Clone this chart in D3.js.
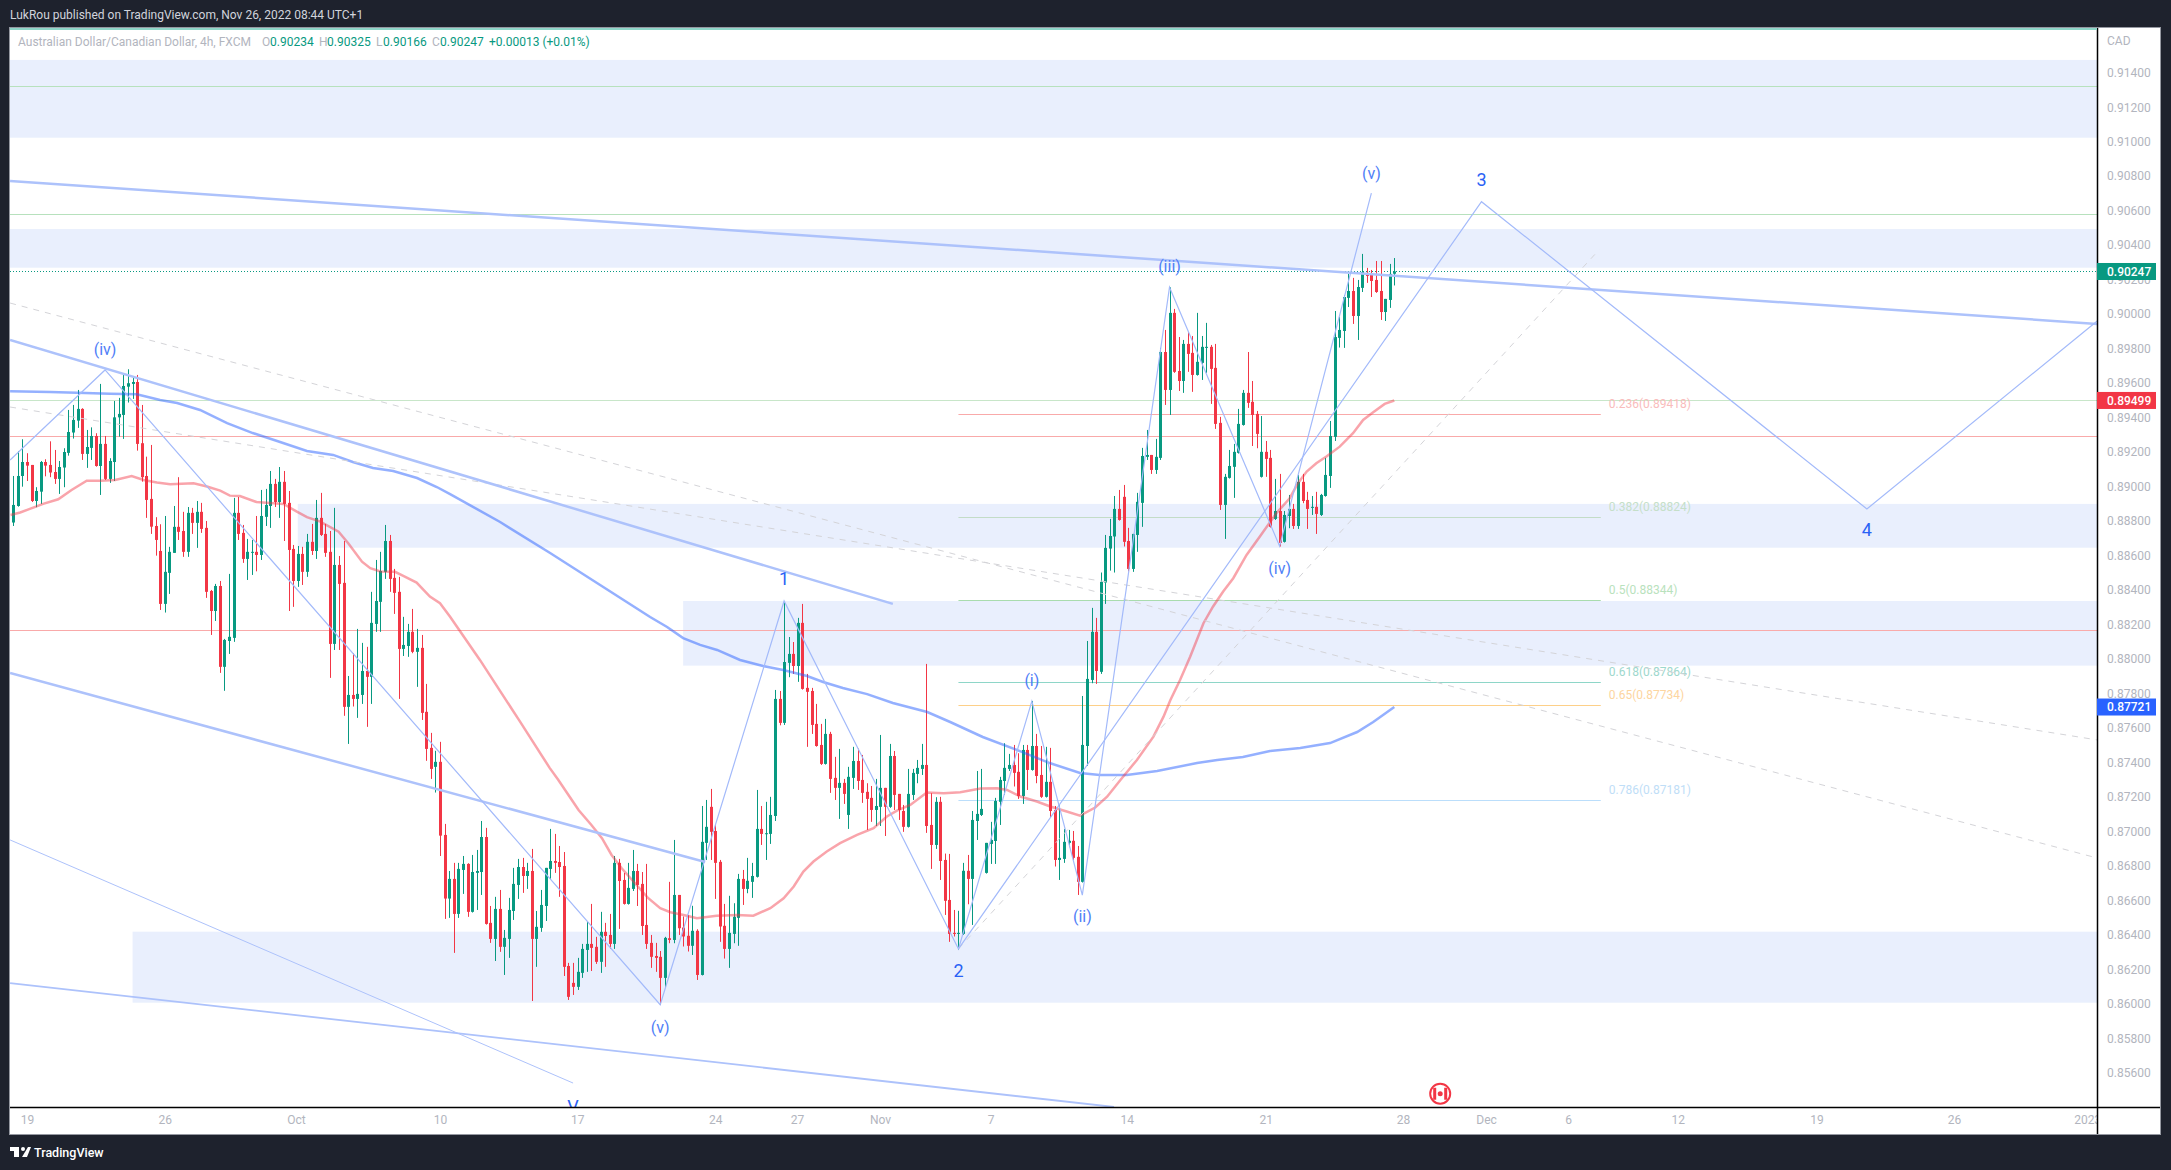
<!DOCTYPE html>
<html>
<head>
<meta charset="utf-8">
<script src="https://cdn.jsdelivr.net/npm/d3@7"></script>
<style>
html, body { margin: 0; padding: 0; background: #1e222d; overflow: hidden; }
text { font-family: Roboto, "Open Sans", sans-serif; }
</style>
</head>
<body>
<div id="canvas"></div>
<script>
// AUD/CAD 4h candles, one value per bar
var opens = [
.88791,.88887,.89061,.89142,.89125,.88916,.88970,.89142,.89125,.89084,
.89044,.89110,.89195,.89313,.89382,.89450,.89189,.89224,.89293,.89119,
.89247,.89044,.89142,.89401,.89415,.89579,.89595,.89606,.89251,.89061,
.88928,.88771,.88626,.88319,.88499,.88615,.88766,.88742,.88621,.88847,
.88789,.88853,.88760,.88394,.88278,.88423,.87954,.88104,.88122,.88847,
.88731,.88580,.88617,.88621,.88603,.88824,.88887,.89015,.88910,.89027,
.88905,.88638,.88452,.88609,.88505,.88679,.88626,.88818,.88725,.88621,
.88087,.88545,.88441,.87722,.87791,.87768,.87791,.87930,.87896,.88203,
.88331,.88505,.88684,.88470,.88389,.88058,.88075,.88157,.88041,.88064,
.87693,.87484,.87374,.87403,.86979,.86610,.86724,.86521,.86776,.86811,
.86533,.86759,.86764,.86967,.86469,.86376,.86550,.86330,.86376,.86538,
.86689,.86793,.86741,.86770,.86376,.86440,.86567,.86782,.86828,.86822,
.86799,.86219,.86121,.86098,.86179,.86312,.86347,.86330,.86243,.86417,
.86399,.86347,.86817,.86718,.86579,.86666,.86770,.86695,.86457,.86353,
.86277,.86272,.86150,.86380,.86370,.86631,.86442,.86394,.86336,.86423,
.86167,.86933,.87142,.87002,.86823,.86452,.86318,.86405,.86498,.86724,
.86666,.86707,.86736,.87014,.86985,.86985,.87089,.87768,.87629,.87977,
.88029,.87959,.88209,.87832,.87814,.87623,.87501,.87391,.87565,.87310,
.87252,.87281,.87095,.87310,.87408,.87298,.87229,.87194,.87124,.87142,
.87252,.87142,.87437,.87217,.87118,.87026,.87211,.87333,.87362,.87385,
.87037,.86921,.87171,.86834,.86602,.86411,.86405,.86405,.86771,.86724,
.87060,.87095,.86759,.86927,.86944,.87171,.87292,.87362,.87385,.87345,
.87205,.87472,.87356,.87495,.87327,.87200,.87287,.87124,.86834,.86840,
.86933,.86945,.86852,.86707,.87495,.87878,.88157,.87925,.88443,.88640,
.88710,.88870,.88940,.88684,.88522,.88719,.88905,.89172,.89183,.89096,
.89166,.89780,.89560,.90007,.89670,.89612,.89827,.89775,.89647,.89717,
.89804,.89810,.89688,.89369,.88893,.89050,.89114,.89195,.89357,.89543,
.89491,.89421,.89056,.89201,.89166,.88812,.88858,.88679,.88829,.88870,
.88771,.89027,.88922,.88876,.88882,.88835,.88945,.89061,.89288,.89862,
.89902,.90094,.90134,.89989,.90152,.90239,.90227,.90198,.90134,.90012,
.90082,.90234];
var highs = [
.89061,.89206,.89274,.89193,.89125,.88996,.89148,.89158,.89262,.89212,
.89148,.89222,.89444,.89473,.89560,.89454,.89328,.89343,.89309,.89595,
.89293,.89164,.89496,.89514,.89657,.89680,.89633,.89647,.89473,.89173,
.89241,.88822,.88781,.88829,.88650,.88887,.89054,.88853,.88881,.88876,
.88916,.88905,.88800,.88400,.88435,.88452,.88116,.88493,.88934,.88939,
.88777,.88696,.88690,.88829,.88980,.88986,.89090,.89044,.89113,.89090,
.88974,.88661,.88655,.88650,.88725,.88783,.88922,.88963,.88783,.88742,
.88876,.88597,.88684,.87901,.88033,.88174,.88093,.88070,.88389,.88574,
.88621,.88777,.88719,.88522,.88476,.88244,.88203,.88290,.88174,.88139,
.87855,.87571,.87467,.87519,.87043,.86770,.86817,.86817,.86857,.86815,
.86863,.86892,.87060,.87020,.86567,.86620,.86660,.86428,.86614,.86788,
.86840,.86846,.86817,.86898,.86538,.86660,.86788,.87014,.86985,.86915,
.86880,.86237,.86237,.86266,.86347,.86475,.86579,.86388,.86533,.86469,
.86521,.86857,.86840,.86759,.86817,.86892,.86811,.86764,.86811,.86399,
.86353,.86306,.86388,.86707,.86950,.86631,.86506,.86515,.86568,.86432,
.87147,.87182,.87246,.87037,.86834,.86579,.86626,.86583,.86753,.86776,
.86846,.86817,.87240,.87147,.87171,.87200,.87820,.87814,.88336,.88127,
.88098,.88238,.88319,.87913,.87832,.87739,.87623,.87652,.87577,.87432,
.87478,.87304,.87374,.87490,.87480,.87443,.87279,.87263,.87304,.87559,
.87252,.87507,.87466,.87217,.87153,.87362,.87362,.87414,.87507,.87971,
.87221,.87198,.87200,.86871,.86869,.86544,.86539,.86817,.86863,.87118,
.87350,.87362,.86933,.87055,.87194,.87316,.87511,.87449,.87501,.87453,
.87501,.87501,.87756,.87565,.87495,.87490,.87484,.87147,.87153,.87014,
.87008,.87002,.86915,.87785,.88104,.88296,.88238,.88501,.88719,.88812,
.88945,.88980,.89009,.88760,.88725,.88963,.89224,.89328,.89183,.89276,
.89804,.89908,.90155,.90030,.89867,.89850,.89896,.89873,.90007,.89873,
.89949,.89821,.89827,.89404,.89073,.89212,.89247,.89450,.89560,.89780,
.89612,.89438,.89409,.89264,.89212,.89044,.89073,.88858,.88951,.88899,
.89067,.89073,.88969,.88945,.88969,.88957,.89166,.89380,.90018,.89983,
.90111,.90233,.90210,.90198,.90349,.90268,.90256,.90308,.90308,.90088,
.90291,.90325];
var lows = [
.88771,.88883,.88999,.89032,.88910,.88880,.88899,.89059,.89054,.89015,
.88957,.88996,.89179,.89278,.89340,.89154,.89108,.89154,.89115,.88951,
.89038,.89021,.89032,.89289,.89276,.89487,.89508,.89208,.89028,.88818,
.88725,.88599,.88284,.88269,.88377,.88615,.88690,.88592,.88592,.88725,
.88644,.88731,.88354,.88139,.88220,.87919,.87815,.88029,.88099,.88690,
.88557,.88458,.88487,.88508,.88574,.88771,.88760,.88881,.88818,.88684,
.88278,.88302,.88418,.88429,.88476,.88603,.88580,.88713,.88592,.87890,
.88052,.88052,.87670,.87507,.87724,.87658,.87739,.87606,.87739,.88157,
.88157,.88464,.88389,.88261,.87768,.88017,.88012,.88033,.87838,.87646,
.87409,.87304,.87225,.86857,.86492,.86498,.86295,.86498,.86637,.86504,
.86529,.86544,.86631,.86459,.86353,.86248,.86301,.86167,.86266,.86486,
.86608,.86643,.86666,.86016,.86214,.86417,.86480,.86724,.86759,.86620,
.86161,.86022,.86051,.86080,.86150,.86185,.86190,.86231,.86179,.86214,
.86318,.86318,.86434,.86575,.86575,.86654,.86567,.86399,.86318,.86208,
.86185,.85993,.86096,.86351,.86351,.86399,.86332,.86303,.86283,.86138,
.86164,.86834,.86834,.86608,.86359,.86262,.86208,.86351,.86336,.86573,
.86641,.86614,.86732,.86921,.86834,.86927,.87060,.87615,.87617,.87894,
.87913,.87867,.87822,.87490,.87565,.87491,.87385,.87387,.87223,.87182,
.87072,.87159,.87014,.87246,.87240,.87165,.87008,.87055,.87031,.87031,
.86973,.87136,.87124,.87066,.86997,.87022,.87182,.87279,.87327,.86991,
.86782,.86898,.86718,.86515,.86359,.86390,.86312,.86399,.86577,.86457,
.86950,.87089,.86755,.86811,.86811,.87037,.87211,.87350,.87260,.87188,
.87159,.87240,.87352,.87279,.87194,.87196,.87078,.86796,.86718,.86817,
.86908,.86834,.86631,.86703,.87379,.87859,.87855,.87913,.88319,.88512,
.88501,.88802,.88652,.88507,.88505,.88621,.88766,.89154,.89073,.89073,
.89154,.89473,.89415,.89659,.89554,.89543,.89665,.89549,.89643,.89618,
.89659,.89479,.89334,.88864,.88696,.89046,.88934,.89191,.89353,.89456,
.89235,.89222,.89052,.89056,.88762,.88806,.88652,.88675,.88758,.88754,
.88754,.88903,.88754,.88835,.88725,.88829,.88941,.88992,.89264,.89806,
.89804,.90041,.89943,.89850,.90128,.90181,.90099,.90123,.89966,.89960,
.90036,.90166];
var closes = [
.88893,.89061,.89142,.89121,.88916,.88974,.89142,.89121,.89081,.89044,
.89113,.89200,.89316,.89386,.89450,.89189,.89229,.89293,.89119,.89247,
.89044,.89148,.89401,.89421,.89583,.89599,.89606,.89247,.89054,.88922,
.88767,.88690,.88319,.88505,.88621,.88766,.88737,.88621,.88847,.88789,
.88853,.88754,.88389,.88278,.88423,.87954,.88110,.88128,.88847,.88725,
.88580,.88621,.88621,.88603,.88829,.88893,.89015,.88910,.89027,.88899,
.88632,.88452,.88609,.88505,.88679,.88626,.88818,.88719,.88615,.88087,
.88545,.88435,.87722,.87791,.87768,.87797,.87930,.87896,.88209,.88336,
.88510,.88684,.88464,.88383,.88058,.88081,.88157,.88041,.88064,.87687,
.87478,.87362,.87403,.86975,.86610,.86724,.86521,.86782,.86811,.86533,
.86764,.86770,.86967,.86463,.86376,.86550,.86330,.86382,.86544,.86695,
.86793,.86741,.86770,.86376,.86446,.86573,.86788,.86828,.86817,.86793,
.86214,.86040,.86098,.86185,.86318,.86347,.86324,.86243,.86417,.86393,
.86347,.86817,.86712,.86579,.86672,.86770,.86689,.86451,.86347,.86272,
.86266,.86150,.86382,.86370,.86631,.86438,.86390,.86336,.86423,.86167,
.86939,.87026,.86997,.86817,.86448,.86318,.86411,.86504,.86724,.86666,
.86713,.86741,.87014,.86985,.86989,.87095,.87768,.87629,.87982,.88029,
.87959,.88209,.87826,.87809,.87617,.87495,.87391,.87565,.87304,.87252,
.87281,.87217,.87316,.87408,.87292,.87223,.87188,.87124,.87147,.87252,
.87142,.87437,.87211,.87124,.87026,.87217,.87339,.87368,.87385,.87031,
.86921,.87171,.86828,.86597,.86405,.86405,.86411,.86771,.86724,.87066,
.87101,.87130,.86933,.86950,.87176,.87298,.87368,.87385,.87339,.87205,
.87472,.87356,.87495,.87321,.87200,.87287,.87118,.86834,.86846,.86939,
.86945,.86846,.86707,.87501,.87884,.88157,.87930,.88447,.88644,.88713,
.88870,.88806,.88679,.88522,.88725,.88911,.89177,.89183,.89096,.89172,
.89780,.89560,.90007,.89665,.89612,.89827,.89769,.89647,.89723,.89810,
.89810,.89682,.89363,.88893,.89056,.89119,.89201,.89363,.89543,.89485,
.89415,.89305,.89201,.89160,.88766,.88858,.88673,.88835,.88870,.88771,
.89027,.88916,.88870,.88882,.88841,.88951,.89067,.89293,.89867,.89908,
.90099,.90134,.89989,.90157,.90244,.90221,.90192,.90128,.90012,.90088,
.90233,.90247];

// moving averages
var fastBars = [-0.6,1.5,3.6,6.5,9.8,12.7,16,18.9,22.2,25.8,28.4,31.3,34.2,39.3,42.2,45.1,47.2,49.4,53,58.9,61.8,64,66.9,70.9,73,76,77.8,80,83.2,85,87.9,90.8,93,95.2,101.7,110.2,116.9,118.8,121,123.2,126,128.3,130.4,132.6,135.5,138.4,141,143.2,146.1,149,153.3,157.7,161.3,165,167.9,170.1,172.2,174.4,177.3,180.2,183.9,187.5,190.4,192.6,195.5,199.1,202.8,206.4,210.8,214.4,216.6,219.5,223.1,226,229.6,232.5,235.8,238.4,241.3,244.9,248.5,250.7,252.2,254.3,256.5,259.4,261.5,263.7,265.9,268.8,271.7,275.3,278.2,280,281.9,284,286.2,289.1,292,294.2,296.4,298.9,301];
var fastVals = [.88835,.88849,.8887,.88899,.88926,.8898,.89034,.89034,.89038,.89061,.89038,.89023,.89013,.89019,.89,.88976,.88947,.88945,.8891,.88899,.88854,.88822,.88796,.88738,.88671,.88564,.88526,.88507,.88505,.88481,.88443,.88362,.88323,.88245,.87994,.87646,.87368,.87298,.87211,.87124,.87037,.8696,.86863,.86786,.86699,.86612,.86554,.86531,.86515,.86496,.8651,.86515,.86511,.86554,.86612,.8668,.86767,.86825,.86883,.86931,.86979,.87018,.87086,.8712,.87153,.87225,.87221,.87227,.87248,.8725,.8724,.87202,.87173,.87144,.87115,.87091,.87138,.87201,.87298,.87414,.87549,.87665,.87762,.87878,.88013,.88207,.88304,.88391,.88468,.88603,.8871,.88845,.88932,.89019,.89087,.89135,.89174,.89231,.89309,.89386,.89431,.89479,.89499];
var slowBars = [-0.7,8,13.8,21.1,26.9,32,35.7,40.7,46.6,52.2,57.5,64,69.7,74,78.4,82.8,88,92.3,95.2,106.1,117,127.9,138.8,142.5,146,149.7,153.4,158.4,163.4,167.8,173,176.5,180.8,186.1,191.7,199.2,204.2,211.3,218.7,225.9,232.5,236.8,242.7,249.3,258,262.4,268,273.9,280.5,287,292.9,296.4,301];
var slowVals = [.89552,.89548,.89544,.89538,.89535,.89502,.89484,.89444,.89368,.8931,.89264,.89206,.89183,.89142,.89107,.8909,.89049,.88997,.88956,.88794,.88614,.88429,.88243,.88185,.88121,.88081,.88052,.87994,.87959,.87936,.87901,.87866,.87831,.87796,.87744,.87692,.87634,.87547,.87472,.87396,.87338,.87327,.87327,.8735,.87396,.87414,.87431,.87466,.87483,.87512,.87576,.87634,.87721];

// axis
var priceTicks = [.856,.858,.86,.862,.864,.866,.868,.87,.872,.874,.876,.878,.88,.882,.884,.886,.888,.89,.892,.894,.896,.898,.9,.902,.904,.906,.908,.91,.912,.914];
var timeBars = [3,33,61.6,93,122.9,153,170.8,188.9,213,242.7,273,302.9,321,338.9,362.8,393,423,452];
var timeLabels = ["19","26","Oct","10","17","24","27","Nov","7","14","21","28","Dec","6","12","19","26","2023"];

// zones: from bar, price high, price low
var zoneFrom = [-1,-1,62,146,26];
var zoneHigh = [.91474,.90493,.88899,.88336,.86418];
var zoneLow = [.91023,.90269,.88645,.87961,.86006];

// full width horizontal levels
var levelPrices = [.91321,.90579,.89499,.89291,.88166];
var levelColors = ["#b7e1bd","#b7e1bd","#c8e6c9","#f9aaaa","#f9aaaa"];

// fib retracement
var fibRatios = ["0.236","0.382","0.5","0.618","0.65","0.786"];
var fibPrices = [.89418,.88824,.88344,.87864,.87734,.87181];
var fibLine = ["#f9aaaa","#c3dcc7","#a9dcae","#8ed6c8","#fdd089","#bbdefb"];
var fibText = ["#f9bcbc","#c5dfc9","#b9e2bd","#9ed8cd","#fdd5a0","#c0def7"];
var fibFrom = 206;
var fibTo = 346;

// drawn trend lines: [bar, price, bar, price]
var thickLines = [
	[-0.7,.90772,454.2,.89943],
	[-0.7,.8985,191.7,.88319],
	[-0.7,.87918,150.8,.86822]
];
var mediumLines = [[-0.7,.8612,239.9,.85401]];
var thinLines = [[-0.7,.8695,122,.8554]];
var dashLines = [
	[-0.7,.90064,454.2,.86845],
	[-0.7,.89461,454.2,.8753],
	[206,.86318,345.6,.90372]
];

// elliott waves
var waveBars = [-0.7,20,141,168,206,222,233,252,276,296];
var waveVals = [.89153,.89676,.85994,.88336,.86318,.87755,.8663,.90156,.88654,.90702];
var forecastBars = [206,320,404,454.2];
var forecastVals = [.86318,.90652,.8887,.8996];

var waveLabels = ["(iv)","(v)","1","2","(i)","(ii)","(iii)","(iv)","(v)","3","4","V"];
var waveLabelBars = [20,141,168,206,222,233,252,276,296,320,404,122];
var waveLabelVals = [.89797,.85865,.88463,.86192,.87874,.86505,.90275,.88527,.90818,.90778,.88749,.85401];

var lastClose = .90247;
var fastLast = .89499;
var slowLast = .87721;

var green = "#089981";
var red = "#f23645";
var blue = "#2962ff";
var axisText = "#b2b5be";
var plotLeft = 10, plotTop = 28, plotRight = 2097, plotBottom = 1107;
var panelRight = 2160, panelBottom = 1134;

var svg = d3.select("#canvas")
	.append("svg")
	.attr("width",2171)
	.attr("height",1170)
	.style("display","block");

var x = d3.scaleLinear().domain([0,454]).range([13.3,2096.3]);
var y = d3.scaleLinear().domain([.856,.914]).range([1072.7,72.7]);

function drawFrame() {
	svg.append("rect")
		.attr("x",0).attr("y",0)
		.attr("width",2171).attr("height",1170)
		.attr("fill","#1e222d");
	svg.append("rect")
		.attr("x",plotLeft-1).attr("y",plotTop-1)
		.attr("width",panelRight-plotLeft+2).attr("height",panelBottom-plotTop+2)
		.attr("fill","#9598a1");
	svg.append("rect")
		.attr("x",plotLeft).attr("y",plotTop)
		.attr("width",panelRight-plotLeft).attr("height",panelBottom-plotTop)
		.attr("fill","#fff");

	svg.append("defs").append("clipPath")
		.attr("id","plotClip")
		.append("rect")
		.attr("x",plotLeft).attr("y",plotTop)
		.attr("width",plotRight-plotLeft).attr("height",plotBottom-plotTop);
	d3.select("defs").append("clipPath")
		.attr("id","timeClip")
		.append("rect")
		.attr("x",plotLeft).attr("y",plotBottom)
		.attr("width",plotRight-plotLeft).attr("height",panelBottom-plotBottom);
}

function drawZones(g) {
	g.selectAll("rect.zone")
		.data(zoneHigh)
		.enter()
		.append("rect")
		.attr("class","zone")
		.attr("x",function(d,i){return x(zoneFrom[i]);})
		.attr("y",function(d){return y(d);})
		.attr("width",function(d,i){return plotRight-x(zoneFrom[i]);})
		.attr("height",function(d,i){return y(zoneLow[i])-y(d);})
		.attr("fill","#e9effd");
}

function drawLevels(g) {
	g.selectAll("line.level")
		.data(levelPrices)
		.enter()
		.append("line")
		.attr("class","level")
		.attr("x1",plotLeft).attr("x2",plotRight)
		.attr("y1",function(d){return Math.round(y(d))+0.5;})
		.attr("y2",function(d){return Math.round(y(d))+0.5;})
		.attr("stroke",function(d,i){return levelColors[i];})
		.attr("stroke-width",1);

	g.append("line")
		.attr("x1",plotLeft).attr("x2",plotRight)
		.attr("y1",Math.round(y(lastClose))+0.5)
		.attr("y2",Math.round(y(lastClose))+0.5)
		.attr("stroke",green)
		.attr("stroke-dasharray","1,2");

	g.selectAll("line.fib")
		.data(fibPrices)
		.enter()
		.append("line")
		.attr("class","fib")
		.attr("x1",x(fibFrom)).attr("x2",x(fibTo))
		.attr("y1",function(d){return Math.round(y(d))+0.5;})
		.attr("y2",function(d){return Math.round(y(d))+0.5;})
		.attr("stroke",function(d,i){return fibLine[i];});

	g.selectAll("text.fib")
		.data(fibPrices)
		.enter()
		.append("text")
		.attr("class","fib")
		.text(function(d,i){return fibRatios[i]+"("+d.toFixed(5)+")";})
		.attr("x",x(fibTo)+8)
		.attr("y",function(d){return y(d)-6;})
		.attr("font-size",12)
		.attr("fill",function(d,i){return fibText[i];});
}

function drawCandles(g) {
	var bars = g.selectAll("g.bar")
		.data(opens)
		.enter()
		.append("g")
		.attr("class","bar")
		.attr("fill",function(d,i){return closes[i] >= d ? green : red;});

	bars.append("rect")
		.attr("x",function(d,i){return Math.round(x(i));})
		.attr("y",function(d,i){return y(highs[i]);})
		.attr("width",1)
		.attr("height",function(d,i){return y(lows[i])-y(highs[i]);});

	bars.append("rect")
		.attr("x",function(d,i){return Math.round(x(i))-1;})
		.attr("y",function(d,i){return y(Math.max(d,closes[i]));})
		.attr("width",3)
		.attr("height",function(d,i){return Math.max(1,Math.abs(y(d)-y(closes[i])));});
}

function drawAverages(g) {
	var line = d3.line()
		.x(function(d){return x(d[0]);})
		.y(function(d){return y(d[1]);});

	g.append("path")
		.attr("d",line(d3.zip(slowBars,slowVals)))
		.attr("fill","none")
		.attr("stroke",blue)
		.attr("stroke-opacity",0.5)
		.attr("stroke-width",2.5);

	g.append("path")
		.attr("d",line(d3.zip(fastBars,fastVals)))
		.attr("fill","none")
		.attr("stroke",red)
		.attr("stroke-opacity",0.45)
		.attr("stroke-width",2.5);
}

function drawSegments(g, list, width, color, dash) {
	g.selectAll(null)
		.data(list)
		.enter()
		.append("line")
		.attr("x1",function(d){return x(d[0]);})
		.attr("y1",function(d){return y(d[1]);})
		.attr("x2",function(d){return x(d[2]);})
		.attr("y2",function(d){return y(d[3]);})
		.attr("stroke",color)
		.attr("stroke-width",width)
		.attr("stroke-dasharray",dash);
}

function drawDrawings(g) {
	drawSegments(g, dashLines, 1, "#d4d4d8", "6,6");
	drawSegments(g, thickLines, 2.5, "#adc2fb", null);
	drawSegments(g, mediumLines, 1.8, "#adc2fb", null);
	drawSegments(g, thinLines, 1, "#adc2fb", null);

	var line = d3.line()
		.x(function(d){return x(d[0]);})
		.y(function(d){return y(d[1]);});

	g.append("path")
		.attr("d",line(d3.zip(waveBars,waveVals)))
		.attr("fill","none")
		.attr("stroke","#a3bafa")
		.attr("stroke-width",1.2);
	g.append("path")
		.attr("d",line(d3.zip(forecastBars,forecastVals)))
		.attr("fill","none")
		.attr("stroke","#a3bafa")
		.attr("stroke-width",1.2);

	g.selectAll("text.wave")
		.data(waveLabels)
		.enter()
		.append("text")
		.attr("class","wave")
		.text(function(d){return d;})
		.attr("x",function(d,i){return x(waveLabelBars[i]);})
		.attr("y",function(d,i){return y(waveLabelVals[i]);})
		.attr("dy","0.35em")
		.attr("text-anchor","middle")
		.attr("font-size",function(d){return d.charAt(0) == "(" ? 16 : 18;})
		.attr("fill",function(d){return d.charAt(0) == "(" ? "#4f7ef7" : "#2a62f5";});
}

function drawFlag(g) {
	var cx = x(311), cy = y(.85478);
	g.append("circle")
		.attr("cx",cx).attr("cy",cy).attr("r",10)
		.attr("fill","#fff")
		.attr("stroke",red)
		.attr("stroke-width",2);
	g.append("rect")
		.attr("x",cx-7).attr("y",cy-6)
		.attr("width",3).attr("height",12)
		.attr("fill",red);
	g.append("rect")
		.attr("x",cx+4).attr("y",cy-6)
		.attr("width",3).attr("height",12)
		.attr("fill",red);
	g.append("circle")
		.attr("cx",cx).attr("cy",cy).attr("r",2.5)
		.attr("fill",red);
}

function drawAxes() {
	var priceAxis = d3.axisRight(y)
		.tickValues(priceTicks)
		.tickSize(0)
		.tickPadding(10)
		.tickFormat(function(d){return d.toFixed(5);});

	var pg = svg.append("g")
		.attr("transform","translate("+plotRight+",0)")
		.call(priceAxis);
	pg.select(".domain").remove();
	pg.selectAll("text")
		.attr("font-size",12)
		.attr("fill",axisText)
		.style("font-family","Roboto");

	var timeAxis = d3.axisBottom(x)
		.tickValues(timeBars)
		.tickSize(0)
		.tickPadding(8)
		.tickFormat(function(d,i){return timeLabels[i];});

	var tg = svg.append("g")
		.attr("clip-path","url(#timeClip)")
		.append("g")
		.attr("transform","translate(0,"+plotBottom+")")
		.call(timeAxis);
	tg.select(".domain").remove();
	tg.selectAll("text")
		.attr("font-size",12)
		.attr("fill",axisText)
		.style("font-family","Roboto");

	svg.append("line")
		.attr("x1",plotRight+0.5).attr("x2",plotRight+0.5)
		.attr("y1",plotTop).attr("y2",panelBottom)
		.attr("stroke","#000")
		.attr("stroke-width",1.5);
	svg.append("line")
		.attr("x1",plotLeft).attr("x2",panelRight)
		.attr("y1",plotBottom+0.5).attr("y2",plotBottom+0.5)
		.attr("stroke","#000")
		.attr("stroke-width",1.5);

	svg.append("text")
		.text("CAD")
		.attr("x",plotRight+10)
		.attr("y",45)
		.attr("font-size",12)
		.attr("fill",axisText);
}

function drawBadges() {
	var vals = [lastClose,fastLast,slowLast];
	var cols = [green,red,blue];
	var b = svg.selectAll("g.badge")
		.data(vals)
		.enter()
		.append("g")
		.attr("class","badge");

	b.append("rect")
		.attr("x",plotRight)
		.attr("y",function(d){return y(d)-8.5;})
		.attr("width",59)
		.attr("height",17)
		.attr("fill",function(d,i){return cols[i];});

	b.append("text")
		.text(function(d){return d.toFixed(5);})
		.attr("x",plotRight+10)
		.attr("y",function(d){return y(d);})
		.attr("dy","0.35em")
		.attr("font-size",12)
		.attr("font-weight",500)
		.attr("fill","#fff");
}

function drawHeader() {
	svg.append("rect")
		.attr("x",plotLeft).attr("y",plotTop)
		.attr("width",plotRight-plotLeft).attr("height",2)
		.attr("fill","#8ed6c8");

	svg.append("text")
		.text("LukRou published on TradingView.com, Nov 26, 2022 08:44 UTC+1")
		.attr("x",10)
		.attr("y",19)
		.attr("font-size",12)
		.attr("fill","#d1d4dc");

	var legend = [
		["Australian Dollar/Canadian Dollar, 4h, FXCM",18,"#b2b5be"],
		["O",262,"#b2b5be"],["0.90234",270,green],
		["H",319,"#b2b5be"],["0.90325",327,green],
		["L",376,"#b2b5be"],["0.90166",383,green],
		["C",432,"#b2b5be"],["0.90247",440,green],
		["+0.00013 (+0.01%)",489,green]
	];
	svg.selectAll("text.legend")
		.data(legend)
		.enter()
		.append("text")
		.attr("class","legend")
		.text(function(d){return d[0];})
		.attr("x",function(d){return d[1];})
		.attr("y",46)
		.attr("font-size",12)
		.attr("fill",function(d){return d[2];});

	// logo + name in the bottom bar
	var logo = svg.append("g").attr("fill","#fff");
	logo.append("rect").attr("x",10).attr("y",1147).attr("width",9).attr("height",4);
	logo.append("rect").attr("x",14).attr("y",1147).attr("width",5).attr("height",10);
	logo.append("circle").attr("cx",23).attr("cy",1149).attr("r",2);
	logo.append("path").attr("d","M28 1147 L31 1147 L27 1157 L22 1157 Z");
	svg.append("text")
		.text("TradingView")
		.attr("x",34)
		.attr("y",1157)
		.attr("font-size",12.5)
		.attr("font-weight",500)
		.attr("fill","#fff");
}

drawFrame();
var plot = svg.append("g").attr("clip-path","url(#plotClip)");
drawZones(plot);
drawLevels(plot);
drawCandles(plot);
drawAverages(plot);
drawDrawings(plot);
drawFlag(plot);
drawAxes();
drawBadges();
drawHeader();
</script>
</body>
</html>
